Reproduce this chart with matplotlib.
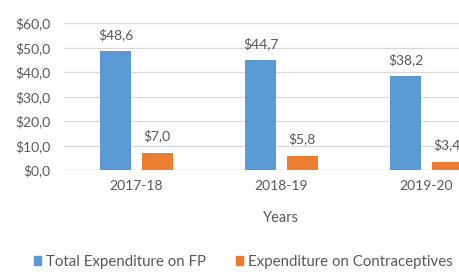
import matplotlib
matplotlib.use("Agg")
import matplotlib.pyplot as plt
import numpy as np
from matplotlib.patches import Patch

categories = ["2017-18", "2018-19", "2019-20"]
total_fp = [48.6, 44.7, 38.2]
contraceptives = [7.0, 5.8, 3.4]
series_names = ["Total Expenditure on FP", "Expenditure on Contraceptives"]
yticks = [0, 10, 20, 30, 40, 50, 60]

BLUE = "#5B9BD5"
ORANGE = "#ED7D31"
TXT = "#595959"

plt.rcParams['font.family'] = ['Lato', 'DejaVu Sans']

fig = plt.figure(figsize=(4.59, 2.74), dpi=100)
ax = fig.add_axes([64/459, 104/274, 435/459, 147/274])

x = np.arange(len(categories))
w = 0.214
off = 0.143
b1 = ax.bar(x - off, total_fp, w, color=BLUE, zorder=3)
b2 = ax.bar(x + off, contraceptives, w, color=ORANGE, zorder=3)

def fmt(v):
    return "$" + f"{v:.1f}".replace(".", ",")

for bars, vals in ((b1, total_fp), (b2, contraceptives)):
    for r, v in zip(bars, vals):
        ax.annotate(fmt(v), (r.get_x() + r.get_width()/2, v), xytext=(0, 12),
                    textcoords="offset points", ha="center", va="center",
                    fontsize=10, color=TXT)

ax.set_xlim(-0.5, 2.5)
ax.set_ylim(0, 60)
ax.set_yticks(yticks)
ax.set_yticklabels([fmt(v) for v in yticks])
ax.set_xticks(x)
ax.set_xticklabels(categories)
ax.tick_params(axis="both", length=0, labelsize=10, colors=TXT)
ax.tick_params(axis="y", pad=10)
ax.tick_params(axis="x", pad=7)
ax.grid(axis="y", color="#D9D9D9", linewidth=0.9, zorder=0)
for s in ax.spines.values():
    s.set_visible(False)
ax.axhline(0, color="#D9D9D9", linewidth=0.9, zorder=1)

fig.text(281/459, 1 - 218/274, "Years", ha="center", va="center",
         fontsize=10.5, color=TXT)

handles = [Patch(color=BLUE), Patch(color=ORANGE)]
fig.legend(handles, series_names, loc="center", bbox_to_anchor=(243/459, 1 - 262/274),
           ncol=2, frameon=False, fontsize=10.8, labelcolor=TXT,
           handlelength=0.5, handleheight=0.5, handletextpad=0.3, columnspacing=2.0)

fig.savefig("out.png", dpi=100)
